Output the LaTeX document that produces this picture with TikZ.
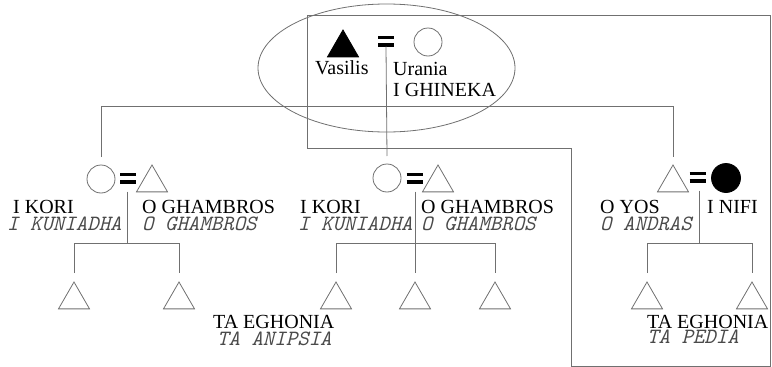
\documentclass[tikz,border=0pt]{standalone}
\usepackage{fontspec}
\setmainfont{Liberation Serif}
\usetikzlibrary{shapes.geometric}
\definecolor{linegray}{HTML}{707070}
\definecolor{glossgray}{HTML}{4A4A4A}
\newcommand{\eqbars}{\vbox{\hrule width 16pt height 3.6pt \vskip 3.8pt \hrule width 16pt height 3.6pt}}
\begin{document}
\begin{tikzpicture}[x=1pt,y=-1pt,
  ln/.style={draw=linegray, line width=0.8pt},
  fem/.style={circle, draw=linegray, line width=0.8pt, minimum size=28pt, inner sep=0pt, outer sep=0pt},
  femd/.style={fem, fill=black, draw=black, minimum size=29pt},
  mal/.style={regular polygon, regular polygon sides=3, draw=linegray, line width=0.8pt, minimum size=35.8pt, inner sep=0pt, outer sep=0pt},
  mald/.style={mal, fill=black, draw=black},
  marr/.style={inner sep=0pt, outer sep=0pt},
  nm/.style={anchor=base west, inner sep=0pt, font=\fontsize{20}{22}\selectfont},
  gl/.style={anchor=base west, inner sep=0pt, text=glossgray, font=\ttfamily\itshape\fontsize{21.8}{22}\selectfont}]
\useasboundingbox (0,0) rectangle (772,367);
% frame and group
\draw[ln] (307,148) -- (307,15) -- (770,15) -- (770,366) -- (571,366) -- (571,148) -- cycle;
\node[ellipse, draw=linegray, line width=0.8pt, minimum width=257pt, minimum height=128pt, inner sep=0pt] (grp) at (386.5,68) {};
% top couple
\node[mald] (V) at (343,47.9) {};
\node[marr] (e0) at (386,41) {\eqbars};
\node[fem] (U) at (428,42) {};
\node[nm] (tV) at (315,74) {Vasilis};
\node[nm] (tU) at (393,75) {Urania};
\node[nm] (tU2) at (393,96) {I GHINEKA};
% generation 2
\node[fem] (c1) at (101,179) {};
\node[marr] (e1) at (128,178) {\eqbars};
\node[mal] (t1) at (152,182.9) {};
\node[fem] (c2) at (387,178) {};
\node[marr] (e2) at (414.5,178) {\eqbars};
\node[mal] (t2) at (438,182.9) {};
\node[mal] (t3) at (673,182.9) {};
\node[marr] (e3) at (697.5,177) {\eqbars};
\node[femd] (c3) at (726,178) {};
% sibling line of generation 2
\coordinate (s0L) at (101,106);
\coordinate (s0R) at (673,106);
\draw[ln] ([yshift=8pt]c1.north) -- (s0L) -- (s0R) -- ([yshift=8pt]t3.north);
\draw[ln] (e0.south) -- ([yshift=8pt]c2.north);
% labels generation 2
\node[nm] (n1) at (13,213) {I KORI};
\node[gl] (g1) at (7,230) {I KUNIADHA};
\node[nm] (n2) at (142,213) {O GHAMBROS};
\node[gl] (g2) at (142,230) {O GHAMBROS};
\node[nm] (n3) at (300,213) {I KORI};
\node[gl] (g3) at (298,230) {I KUNIADHA};
\node[nm] (n4) at (421,213) {O GHAMBROS};
\node[gl] (g4) at (421,230) {O GHAMBROS};
\node[nm] (n5) at (600,213) {O YOS};
\node[gl] (g5) at (600,230) {O ANDRAS};
\node[nm] (n6) at (707,213) {I NIFI};
% generation 3
\node[mal] (k1) at (74,299.9) {};
\node[mal] (k2) at (179,299.9) {};
\node[mal] (k3) at (336,299.9) {};
\node[mal] (k4) at (415,299.9) {};
\node[mal] (k5) at (495,299.9) {};
\node[mal] (k6) at (647,299.9) {};
\node[mal] (k7) at (752,299.9) {};
% descent lines
\coordinate (j1) at (127,243);
\coordinate (j2) at (415,243);
\coordinate (j3) at (699,243);
\draw[ln] ([xshift=-1pt,yshift=-8pt]e1.south) -- (j1);
\draw[ln] ([yshift=9pt]k1.north) -- (k1.north |- j1) -- (k2.north |- j1) -- ([yshift=9pt]k2.north);
\draw[ln] ([xshift=0.5pt,yshift=-8pt]e2.south) -- ([yshift=9pt]k4.north);
\draw[ln] ([yshift=9pt]k3.north) -- (k3.north |- j2) -- (k5.north |- j2) -- ([yshift=9pt]k5.north);
\draw[ln] ([xshift=1.5pt,yshift=-8pt]e3.south) -- (j3);
\draw[ln] ([yshift=9pt]k6.north) -- (k6.north |- j3) -- (k7.north |- j3) -- ([yshift=9pt]k7.north);
% labels generation 3
\node[nm] (n7) at (213,328) {TA EGHONIA};
\node[gl] (g7) at (217,345) {TA ANIPSIA};
\node[nm] (n8) at (647,328) {TA EGHONIA};
\node[gl] (g8) at (647,343) {TA PEDIA};
\end{tikzpicture}
\end{document}
